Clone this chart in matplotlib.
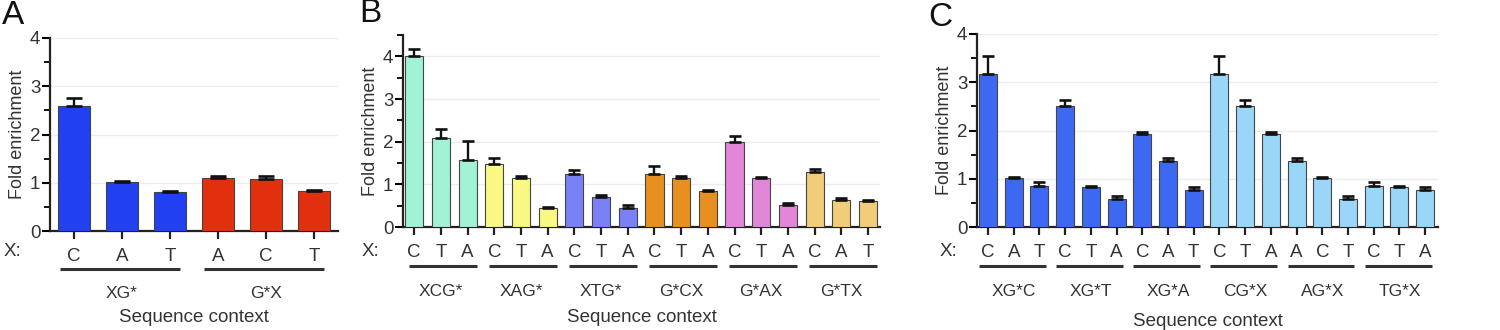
import numpy as np
import matplotlib
matplotlib.use("Agg")
import matplotlib.pyplot as plt
import matplotlib.transforms as mtransforms
from matplotlib.ticker import MultipleLocator

plt.rcParams['font.family'] = ['Liberation Sans', 'DejaVu Sans']
plt.rcParams['text.color'] = '#222222'

# ---- panel A ----
a_x = ["C", "A", "T", "A", "C", "T"]
a_val = [2.60, 1.01, 0.80, 1.10, 1.07, 0.83]
a_top = [2.75, 1.04, 0.82, 1.15, 1.15, 0.85]
a_groups = ["XG*", "G*X"]
a_colors = ["#2040f2", "#e2300f"]

# ---- panel B ----
b_x = ["C", "T", "A", "C", "T", "A", "C", "T", "A",
       "C", "T", "A", "C", "T", "A", "C", "A", "T"]
b_val = [4.00, 2.09, 1.58, 1.47, 1.15, 0.45, 1.25, 0.70, 0.44,
         1.25, 1.15, 0.84, 1.99, 1.16, 0.52, 1.30, 0.63, 0.61]
b_top = [4.18, 2.29, 2.01, 1.61, 1.20, 0.48, 1.34, 0.76, 0.52,
         1.44, 1.19, 0.87, 2.14, 1.17, 0.56, 1.36, 0.69, 0.63]
b_groups = ["XCG*", "XAG*", "XTG*", "G*CX", "G*AX", "G*TX"]
b_colors = ["#a2f2d6", "#f8f882", "#7a80f6", "#e8901f", "#e286d8", "#f1cd7a"]

# ---- panel C ----
c_x = ["C", "A", "T", "C", "T", "A", "C", "A", "T",
       "C", "T", "A", "A", "C", "T", "C", "T", "A"]
c_val = [3.17, 1.01, 0.85, 2.50, 0.83, 0.57, 1.93, 1.36, 0.76,
         3.17, 2.50, 1.93, 1.36, 1.01, 0.57, 0.85, 0.83, 0.76]
c_top = [3.54, 1.04, 0.93, 2.64, 0.85, 0.64, 1.96, 1.42, 0.82,
         3.54, 2.64, 1.96, 1.42, 1.04, 0.64, 0.93, 0.85, 0.82]
c_groups = ["XG*C", "XG*T", "XG*A", "CG*X", "AG*X", "TG*X"]
c_colors = ["#3d68f2", "#3d68f2", "#3d68f2", "#9ad6f8", "#9ad6f8", "#9ad6f8"]

W, H = 1500, 330
fig = plt.figure(figsize=(W / 100, H / 100), dpi=100)
ffig = fig.transFigure


def px(x0, y_bot, x1, y_top):
    return [x0 / W, 1 - y_bot / H, (x1 - x0) / W, (y_bot - y_top) / H]


def panel(rect, letter, letter_xy, x_lab, xs, vals, tops, groups, colors, ylim,
          width, capsize, xlim, line_ext, group_y, seq_y):
    ax = fig.add_axes(rect)
    n = len(xs)
    per = n // len(groups)
    pos = np.arange(n)
    cols = [colors[i // per] for i in range(n)]
    err = np.array(tops) - np.array(vals)
    ax.bar(pos, vals, width, color=cols, edgecolor='#444444', linewidth=0.8, zorder=3)
    ax.errorbar(pos, vals, yerr=[np.zeros(n), err], fmt='none', ecolor='#111111',
                elinewidth=1.7, capsize=capsize, capthick=1.9, zorder=4)
    ax.set_xlim(*xlim)
    ax.set_ylim(*ylim)
    ax.set_yticks([0, 1, 2, 3, 4])
    ax.yaxis.set_minor_locator(MultipleLocator(0.5))
    ax.set_xticks(pos)
    ax.set_xticklabels(xs, fontsize=13.5, color='#333333')
    ax.tick_params(axis='y', labelsize=13.5, labelcolor='#333333', width=1.5,
                   length=6, pad=1)
    ax.tick_params(axis='y', which='minor', width=1.3, length=4)
    ax.tick_params(axis='x', width=1.6, length=6, pad=6, color='#222222')
    for y in [1, 2, 3, 4]:
        ax.axhline(y, color='#ececec', lw=1.0, zorder=0)
    for s in ['top', 'right']:
        ax.spines[s].set_visible(False)
    for s in ['left', 'bottom']:
        ax.spines[s].set_linewidth(1.6)
        ax.spines[s].set_color('#222222')
    ax.set_ylabel("Fold enrichment", fontsize=13, color='#333333', labelpad=3)

    tr = mtransforms.blended_transform_factory(ax.transData, ffig)
    fig.text(x_lab / W, 1 - 251 / H, "X:", fontsize=13.5, color='#333333', va='center')
    for g, name in enumerate(groups):
        a = g * per - line_ext[0]
        b = (g + 1) * per - 1 + line_ext[1]
        ax.plot([a, b], [1 - group_y / H] * 2, color='#333333', lw=2.2,
                transform=tr, clip_on=False, solid_capstyle='butt')
        ax.text(g * per + (per - 1) / 2, 1 - (group_y + 25) / H, name,
                transform=tr, ha='center', va='center', fontsize=12.5, color='#333333')
    ax.text(0.5, 1 - seq_y / H, "Sequence context",
            transform=mtransforms.blended_transform_factory(ax.transAxes, ffig),
            ha='center', va='center', fontsize=13.5, color='#333333')
    fig.text(letter_xy[0] / W, 1 - letter_xy[1] / H, letter, fontsize=24,
             ha='left', va='top', color='#111111')
    return ax


panel(px(50, 231, 338, 38), "A", (2, 0), 4, a_x, a_val, a_top, a_groups, a_colors,
      (0, 4), 0.67, 6, (-0.5, 5.5), (0.3, 0.2), 269, 318)

panel(px(403, 227, 880, 35), "B", (359, -2), 362, b_x, b_val, b_top, b_groups, b_colors,
      (0, 4.5), 0.68, 4, (-0.42, 17.45), (0.2, 0.35), 266, 318)

panel(px(977, 227, 1438, 34), "C", (928, 2), 940, c_x, c_val, c_top, c_groups, c_colors,
      (0, 4), 0.7, 4, (-0.43, 17.5), (0.35, 0.25), 266, 321)

fig.savefig("out.png", dpi=100)
